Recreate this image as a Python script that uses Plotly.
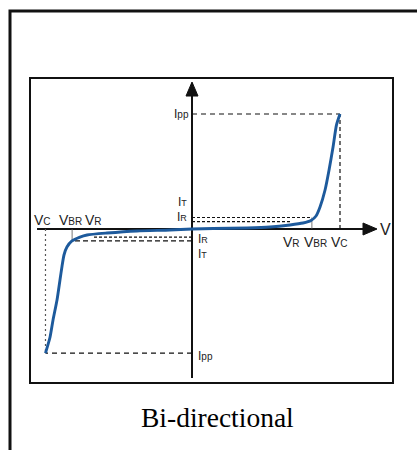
import plotly.graph_objects as go

# ---------------- data (normalised V / I units) ----------------
curve_v = [-0.99, -0.959, -0.939, -0.912, -0.892, -0.878, -0.865, -0.845, -0.811,
           -0.757, -0.709, -0.574, -0.372, -0.149, 0.0, 0.142, 0.372, 0.527, 0.662,
           0.750, 0.804, 0.838, 0.865, 0.899, 0.926, 0.953, 0.976, 1.0]
curve_i = [-1.08, -0.939, -0.791, -0.617, -0.443, -0.322, -0.226, -0.157, -0.104,
           -0.070, -0.052, -0.035, -0.017, -0.009, 0.0, 0.004, 0.009, 0.017, 0.035,
           0.052, 0.074, 0.113, 0.191, 0.339, 0.513, 0.713, 0.904, 1.0]

VC_POS, VBR_POS, VR_POS = 1.0, 0.81, 0.67
VC_NEG, VBR_NEG, VR_NEG = -0.99, -0.81, -0.67
IPP_POS, IT_POS, IR_POS = 1.0, 0.10, 0.065
IPP_NEG, IT_NEG, IR_NEG = -1.08, -0.104, -0.07

caption = "Bi-directional"

# ---------------- layout geometry ----------------
W, H = 417, 450
ML, MR, MT, MB = 30, 24, 78, 67
X_RANGE = [-1.0946, 1.3581]
Y_RANGE = [-1.339, 1.313]
X_AX = [-1.047, 1.24]
Y_AX = [-1.296, 1.27]
X_TIP, Y_TIP = 1.25, 1.278

BLUE = "#1d5a9c"
INK = "#111111"
LBL = "#222222"

fig = go.Figure()
fig.add_trace(go.Scatter(x=curve_v, y=curve_i, mode="lines",
                         line=dict(color=BLUE, width=2.9, shape="spline", smoothing=0.6),
                         hoverinfo="skip", showlegend=False))

shapes = []

def seg(x0, y0, x1, y1, width=1.2, dash="solid", color=INK, layer="below"):
    shapes.append(dict(type="line", xref="x", yref="y", x0=x0, y0=y0, x1=x1, y1=y1,
                       line=dict(color=color, width=width, dash=dash), layer=layer))

# axes
seg(X_AX[0], 0, X_AX[1], 0, width=2)
seg(0, Y_AX[0], 0, Y_AX[1], width=2)
# arrow heads (pixel-sized)
shapes.append(dict(type="path", xref="x", yref="y", xsizemode="pixel", ysizemode="pixel",
                   xanchor=X_TIP, yanchor=0, path="M 0,0 L -14,6 L -14,-6 Z",
                   fillcolor=INK, line=dict(color=INK, width=1), layer="above"))
shapes.append(dict(type="path", xref="x", yref="y", xsizemode="pixel", ysizemode="pixel",
                   xanchor=0, yanchor=Y_TIP, path="M 0,0 L -6,-14 L 6,-14 Z",
                   fillcolor=INK, line=dict(color=INK, width=1), layer="above"))

# reference lines (positive quadrant)
seg(0, IPP_POS, VC_POS, IPP_POS, dash="5px,4px")
seg(VC_POS, 0, VC_POS, IPP_POS, dash="4px,3px")
seg(0, IT_POS, VBR_POS, IT_POS, dash="3px,2px")
seg(0, IR_POS, VR_POS, IR_POS, dash="3px,2px")
seg(VBR_POS, 0, VBR_POS, IT_POS, width=0.8, color="#555")
# reference lines (negative quadrant)
seg(0, IPP_NEG, VC_NEG, IPP_NEG, dash="5px,4px")
seg(VC_NEG, 0, VC_NEG, IPP_NEG, dash="2px,3px", color="#555")
seg(0, IT_NEG, VBR_NEG, IT_NEG, dash="5px,3px")
seg(0, IR_NEG, VR_NEG, IR_NEG, dash="3px,2px")
seg(VBR_NEG, 0, VBR_NEG, IT_NEG, width=0.8, color="#555")

# plot frame
shapes.append(dict(type="rect", xref="paper", yref="paper", x0=0, y0=0, x1=1, y1=1,
                   line=dict(color=INK, width=2), layer="above"))
# outer frame (top-left corner of a larger box)
pw, ph = W - ML - MR, H - MT - MB
fx = (10 - ML) / pw
fy = (H - MB - 11) / ph
fr = (W + 10 - ML) / pw
fb = (H - MB - (H + 10)) / ph
shapes.append(dict(type="path", xref="paper", yref="paper",
                   path=f"M {fx},{fb} L {fx},{fy} L {fr},{fy}",
                   line=dict(color=INK, width=3), layer="above"))

annotations = []

def lab(text, x, y, xanchor="center", yanchor="middle", xshift=0, yshift=0, size=14,
        color=LBL, family="Liberation Sans, Arial, sans-serif", xref="x", yref="y"):
    annotations.append(dict(text=text, x=x, y=y, xref=xref, yref=yref, showarrow=False,
                            xanchor=xanchor, yanchor=yanchor, xshift=xshift, yshift=yshift,
                            font=dict(size=size, color=color, family=family)))

def sc(main, sub, s=10):
    return f"{main}<span style='font-size:{s}px'>{sub}</span>"

# current labels
lab(sc("I", "pp", 10), 0, IPP_POS, xanchor="right", xshift=-1, size=12)
lab(sc("I", "T", 9), 0, IT_POS, xanchor="right", xshift=-3, yshift=16, size=12)
lab(sc("I", "R", 9), 0, IR_POS, xanchor="right", xshift=-3, yshift=5, size=12)
lab(sc("I", "R", 9), 0, IR_NEG, xanchor="left", xshift=4, yshift=-2, size=12)
lab(sc("I", "T", 9), 0, IT_NEG, xanchor="left", xshift=4, yshift=-13, size=12)
lab(sc("I", "pp", 10), 0, IPP_NEG, xanchor="left", xshift=4, yshift=-3, size=12)
# voltage labels
lab(sc("V", "C"), VC_NEG, 0, xshift=-3, yshift=9)
lab(sc("V", "BR"), VBR_NEG, 0, xshift=-2, yshift=9)
lab(sc("V", "R"), VR_NEG, 0, xshift=1, yshift=9)
lab(sc("V", "R"), VR_POS, 0, xshift=0, yshift=-13)
lab(sc("V", "BR"), VBR_POS, 0, xshift=4, yshift=-13)
lab(sc("V", "C"), VC_POS, 0, xshift=-1, yshift=-13)
lab("V", X_TIP, 0, xanchor="center", xshift=8, size=16)

# caption
lab(caption, (217 - ML) / pw, (H - MB - 418) / ph, xref="paper", yref="paper", size=27.5,
    color="#000", family="Liberation Serif, Times New Roman, serif")

fig.update_layout(
    width=W, height=H, margin=dict(l=ML, r=MR, t=MT, b=MB, pad=0),
    paper_bgcolor="white", plot_bgcolor="white",
    xaxis=dict(range=X_RANGE, visible=False, fixedrange=True),
    yaxis=dict(range=Y_RANGE, visible=False, fixedrange=True),
    shapes=shapes, annotations=annotations, showlegend=False,
)

fig.write_html("out.html", config={"displayModeBar": False},
               post_script="document.body.style.margin='0';document.body.style.overflow='hidden';")
